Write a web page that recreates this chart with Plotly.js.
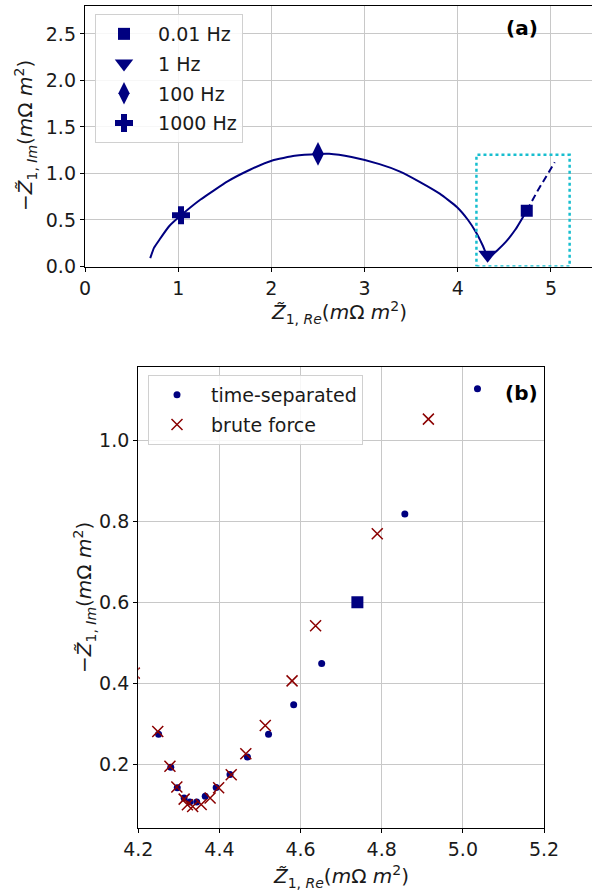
<!DOCTYPE html>
<html>
<head>
<meta charset="utf-8">
<script src="https://cdn.plot.ly/plotly-3.0.1.min.js"></script>
<style>html,body{margin:0;padding:0;background:#fff;}#chart{width:592px;height:891px;}</style>
</head>
<body>
<div id="chart"></div>
<script>
// ---------- Panel (a): impedance spectrum curve ----------
const arcX = [0.70, 0.74, 0.80, 0.90, 1.03, 1.24, 1.53, 1.77, 2.01, 2.25, 2.50, 2.62, 2.86, 3.16, 3.38, 3.59, 3.81, 3.99, 4.11, 4.20, 4.27, 4.32, 4.36, 4.42, 4.52, 4.62, 4.74];
const arcY = [0.09, 0.20, 0.29, 0.43, 0.55, 0.72, 0.915, 1.04, 1.14, 1.19, 1.21, 1.212, 1.176, 1.10, 1.02, 0.91, 0.78, 0.64, 0.50, 0.36, 0.22, 0.105, 0.12, 0.17, 0.27, 0.40, 0.60];
const dashX = [4.74, 4.86, 5.04];
const dashY = [0.60, 0.82, 1.12];

const freqLabels = ['0.01 Hz', '1 Hz', '100 Hz', '1000 Hz'];
const freqX = [4.74, 4.32, 2.50, 1.03];
const freqY = [0.60, 0.125, 1.21, 0.55];

const zoomBoxX = [4.2, 5.2, 5.2, 4.2, 4.2];
const zoomBoxY = [0, 0, 1.2, 1.2, 0];

// ---------- Panel (b): zoom, two methods ----------
const timeSepX = [4.250, 4.280, 4.296, 4.313, 4.327, 4.344, 4.365, 4.392, 4.426, 4.469, 4.521, 4.583, 4.652, 4.857, 5.036];
const timeSepY = [0.274, 0.193, 0.142, 0.117, 0.107, 0.107, 0.121, 0.143, 0.175, 0.218, 0.274, 0.347, 0.449, 0.818, 1.127];
const bruteX = [4.190, 4.248, 4.278, 4.295, 4.313, 4.321, 4.334, 4.355, 4.377, 4.398, 4.429, 4.465, 4.513, 4.579, 4.637, 4.789, 4.915];
const bruteY = [0.425, 0.281, 0.195, 0.144, 0.114, 0.100, 0.096, 0.101, 0.117, 0.142, 0.174, 0.226, 0.296, 0.406, 0.542, 0.769, 1.052];
const lowFreqX = [4.74];
const lowFreqY = [0.60];

const NAVY = '#000080';
const DARKRED = '#8B0000';
const FONT = 'DejaVu Sans, sans-serif';
const W = 592, H = 891;
const NB = '\u00a0';

const symbols = ['square', 'triangle-down', 'diamond-tall', 'cross'];
const sizes = [12, 16, 17, 15];

const traces = [];
traces.push({x: arcX, y: arcY, mode: 'lines', line: {color: NAVY, width: 2, shape: 'spline', smoothing: 0.4}, showlegend: false, xaxis: 'x', yaxis: 'y'});
traces.push({x: dashX, y: dashY, mode: 'lines', line: {color: NAVY, width: 2, dash: '7px,4px'}, showlegend: false, xaxis: 'x', yaxis: 'y'});
traces.push({x: zoomBoxX, y: zoomBoxY, mode: 'lines', line: {color: '#17becf', width: 2.5, dash: 'dot'}, showlegend: false, xaxis: 'x', yaxis: 'y', cliponaxis: false});
for (let i = 0; i < freqLabels.length; i++) {
  traces.push({x: [freqX[i]], y: [freqY[i]], mode: 'markers', name: NB + freqLabels[i],
    marker: {symbol: symbols[i], size: sizes[i], color: NAVY},
    xaxis: 'x', yaxis: 'y', legend: 'legend', legendgroup: 'g' + i});
}
traces.push({x: timeSepX, y: timeSepY, mode: 'markers', name: NB + 'time-separated', marker: {symbol: 'circle', size: 7, color: NAVY}, xaxis: 'x2', yaxis: 'y2', legend: 'legend2', legendgroup: 'b0'});
traces.push({x: lowFreqX, y: lowFreqY, mode: 'markers', marker: {symbol: 'square', size: 12, color: NAVY}, showlegend: false, xaxis: 'x2', yaxis: 'y2'});
traces.push({x: bruteX, y: bruteY, mode: 'markers', name: NB + 'brute force', marker: {symbol: 'x-thin', size: 11, color: DARKRED, line: {color: DARKRED, width: 1.5}}, xaxis: 'x2', yaxis: 'y2', legend: 'legend2', legendgroup: 'b1'});

const axisCommon = {
  showline: true, linecolor: '#000', linewidth: 1.2,
  ticks: 'outside', ticklen: 4, tickwidth: 1, tickcolor: '#000',
  showgrid: true, gridcolor: '#c8c8c8', gridwidth: 1,
  zeroline: false, automargin: false,
  tickfont: {family: FONT, size: 19, color: '#1a1a1a'}
};

const px = v => v / W;
const py = v => (H - v) / H;

const xTitle = '<i>Z̃</i><sub>1, <i>Re</i></sub>(<i>m</i>Ω <i>m</i><sup>2</sup>)';
const yTitle = '−<i>Z̃</i><sub>1, <i>Im</i></sub>(<i>m</i>Ω <i>m</i><sup>2</sup>)';
const titleFont = {family: FONT, size: 20, color: '#1a1a1a'};
const legendCommon = {xanchor: 'left', yanchor: 'top', bgcolor: 'rgba(255,255,255,0.85)', bordercolor: '#d0d0d0', borderwidth: 1, font: {family: FONT, size: 19, color: '#1a1a1a'}, itemwidth: 46, tracegroupgap: 2};

const layout = {
  width: W, height: H,
  margin: {l: 0, r: 0, t: 0, b: 0},
  paper_bgcolor: '#fff', plot_bgcolor: '#fff',
  font: {family: FONT, color: '#1a1a1a'},
  xaxis: Object.assign({}, axisCommon, {domain: [px(85), 1], range: [0, 5.44], dtick: 1, tick0: 0, mirror: true, anchor: 'y'}),
  yaxis: Object.assign({}, axisCommon, {domain: [py(266.5), py(6)], range: [0, 2.8], dtick: 0.5, tick0: 0, tickformat: '.1f', anchor: 'x'}),
  xaxis2: Object.assign({}, axisCommon, {domain: [px(138.3), px(544)], range: [4.2, 5.2], dtick: 0.2, tick0: 4.2, tickformat: '.1f', mirror: true, anchor: 'y2'}),
  yaxis2: Object.assign({}, axisCommon, {domain: [py(827.5), py(367.3)], range: [0.044, 1.18], dtick: 0.2, tick0: 0, tickformat: '.1f', mirror: true, anchor: 'x2'}),
  legend: Object.assign({}, legendCommon, {x: px(95), y: py(14)}),
  legend2: Object.assign({}, legendCommon, {x: px(148), y: py(375)}),
  annotations: [
    {text: xTitle, xref: 'paper', yref: 'paper', x: px(338.5), y: py(313), xanchor: 'center', yanchor: 'middle', showarrow: false, font: titleFont},
    {text: yTitle, xref: 'paper', yref: 'paper', x: px(26), y: py(136), xanchor: 'center', yanchor: 'middle', textangle: -90, showarrow: false, font: titleFont},
    {text: xTitle, xref: 'paper', yref: 'paper', x: px(341), y: py(876), xanchor: 'center', yanchor: 'middle', showarrow: false, font: titleFont},
    {text: yTitle, xref: 'paper', yref: 'paper', x: px(84), y: py(598), xanchor: 'center', yanchor: 'middle', textangle: -90, showarrow: false, font: titleFont},
    {text: '<b>(a)</b>', xref: 'paper', yref: 'paper', x: px(522), y: py(28), xanchor: 'center', yanchor: 'middle', showarrow: false, font: {family: FONT, size: 20, color: '#000'}},
    {text: '<b>(b)</b>', xref: 'paper', yref: 'paper', x: px(521), y: py(393), xanchor: 'center', yanchor: 'middle', showarrow: false, font: {family: FONT, size: 20, color: '#000'}}
  ]
};

Plotly.newPlot('chart', traces, layout, {staticPlot: true, displayModeBar: false});
</script>
</body>
</html>
